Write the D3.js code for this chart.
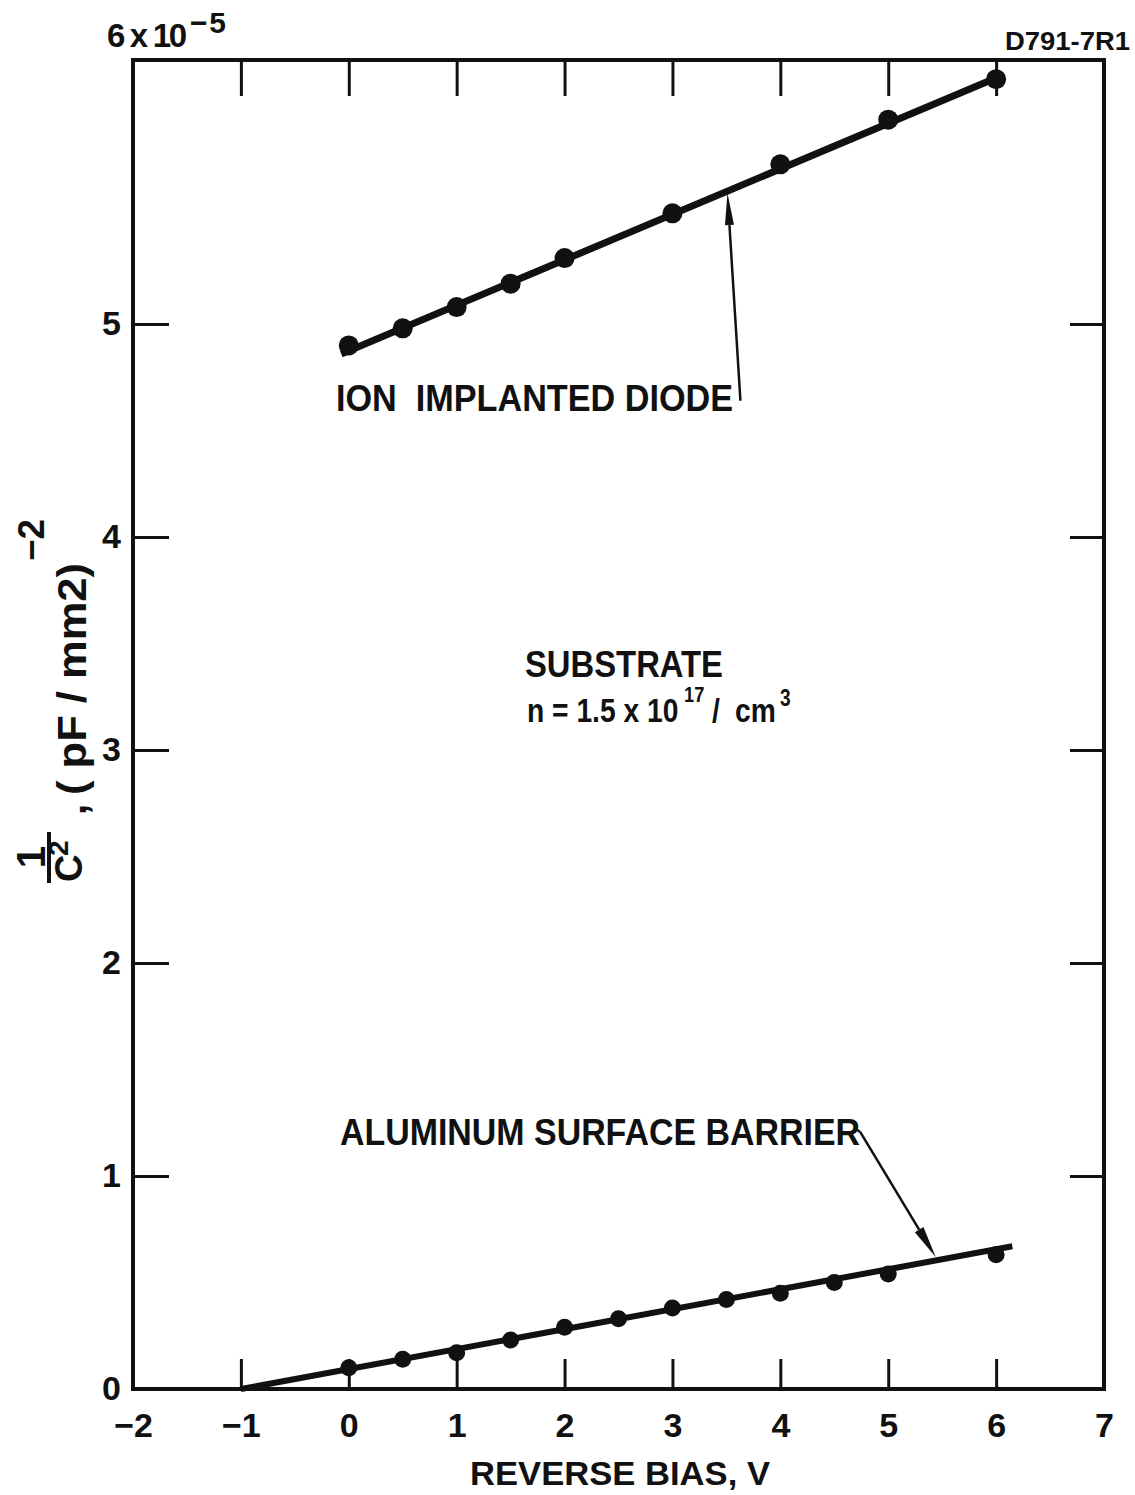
<!DOCTYPE html>
<html><head><meta charset="utf-8">
<script src="https://cdn.jsdelivr.net/npm/d3@7"></script>
<style>
html,body{margin:0;padding:0;background:#fff;}
svg text{font-family:"Liberation Sans",Arial,sans-serif;font-weight:bold;fill:#111;}
</style></head>
<body>
<script>
// ---- data ----
const xTickValues = [-2,-1,0,1,2,3,4,5,6,7];
const xTickMarks = [-1,0,1,2,3,4,5,6];
const yTickValues = [0,1,2,3,4,5];
const yTickMarks = [1,2,3,4,5];

const ionX = [0,0.5,1,1.5,2,3,4,5,6];
const ionY = [4.90,4.98,5.08,5.19,5.31,5.52,5.75,5.96,6.15];
const ionFitX = [-0.07, 6.02];
const ionFitY = [4.86, 6.16];

const alX = [0,0.5,1,1.5,2,2.5,3,3.5,4,4.5,5,6];
const alY = [0.10,0.14,0.17,0.23,0.29,0.33,0.38,0.42,0.45,0.50,0.54,0.63];
const alFitX = [-1.0, 6.15];
const alFitY = [0.0, 0.67];

// annotation arrows in data units: [tailX, tailY, tipX, tipY]
const ionArrow = [3.63, 4.64, 3.51, 5.615];
const alArrow = [4.74, 1.207, 5.44, 0.62];

const W = 1135, H = 1495;
const svg = d3.select("body").append("svg").attr("width", W).attr("height", H);

const x = d3.scaleLinear().domain([-2,7]).range([133,1104]);
const y = d3.scaleLinear().domain([0,6.24]).range([1389,60]);
const ink = "#111";

// frame
svg.append("rect").attr("x", x(-2)).attr("y", y(6.24))
  .attr("width", x(7)-x(-2)).attr("height", y(0)-y(6.24))
  .attr("fill","none").attr("stroke",ink).attr("stroke-width",4);

function styleAxis(g){ g.select(".domain").remove(); g.selectAll("line").attr("stroke",ink).attr("stroke-width",3); }

// tick marks (inward)
svg.append("g").attr("transform",`translate(0,${y(0)})`)
  .call(d3.axisBottom(x).tickValues(xTickMarks).tickSize(-30).tickFormat("")).call(styleAxis);
svg.append("g").attr("transform",`translate(0,${y(6.24)})`)
  .call(d3.axisTop(x).tickValues(xTickMarks).tickSize(-36).tickFormat("")).call(styleAxis);
svg.append("g").attr("transform",`translate(${x(-2)},0)`)
  .call(d3.axisLeft(y).tickValues(yTickMarks).tickSize(-36).tickFormat("")).call(styleAxis);
svg.append("g").attr("transform",`translate(${x(7)},0)`)
  .call(d3.axisRight(y).tickValues(yTickMarks).tickSize(-34).tickFormat("")).call(styleAxis);

// tick labels
const gxl = svg.append("g").attr("transform",`translate(0,${y(0)})`)
  .call(d3.axisBottom(x).tickValues(xTickValues).tickSize(0).tickPadding(24).tickFormat(d3.format("d")));
gxl.select(".domain").remove();
gxl.selectAll("text").attr("font-size",34).attr("fill",ink);
const gyl = svg.append("g").attr("transform",`translate(${x(-2)},0)`)
  .call(d3.axisLeft(y).tickValues(yTickValues).tickSize(0).tickPadding(12).tickFormat(d3.format("d")));
gyl.select(".domain").remove();
gyl.selectAll("text").attr("font-size",34).attr("fill",ink);

// top-left multiplier label
svg.append("text").attr("x",107).attr("y",47).attr("font-size",33).attr("textLength",80).text("6 x 10");
svg.append("text").attr("x",190).attr("y",33).attr("font-size",30).attr("textLength",36).text("\u22125");
svg.append("text").attr("x",1005).attr("y",50).attr("font-size",25).attr("textLength",125).attr("lengthAdjust","spacingAndGlyphs").text("D791-7R1");

// fit lines
const line = d3.line().x(d=>x(d[0])).y(d=>y(d[1]));
svg.append("path").attr("d", line(d3.zip(ionFitX, ionFitY)))
  .attr("stroke",ink).attr("stroke-width",7).attr("fill","none");
svg.append("path").attr("d", line(d3.zip(alFitX, alFitY)))
  .attr("stroke",ink).attr("stroke-width",6).attr("fill","none");

// points
svg.append("g").selectAll("circle").data(d3.zip(ionX, ionY)).join("circle")
  .attr("cx",d=>x(d[0])).attr("cy",d=>y(d[1])).attr("r",10).attr("fill",ink);
svg.append("g").selectAll("circle").data(d3.zip(alX, alY)).join("circle")
  .attr("cx",d=>x(d[0])).attr("cy",d=>y(d[1])).attr("r",8.5).attr("fill",ink);

// arrows
function arrow(a, headLen, headW){
  const x1=x(a[0]), y1=y(a[1]), x2=x(a[2]), y2=y(a[3]);
  const dx=x2-x1, dy=y2-y1, L=Math.hypot(dx,dy), ux=dx/L, uy=dy/L;
  const bx=x2-ux*headLen, by=y2-uy*headLen;
  svg.append("line").attr("x1",x1).attr("y1",y1).attr("x2",bx).attr("y2",by)
    .attr("stroke",ink).attr("stroke-width",2.5);
  svg.append("polygon").attr("points",
    `${x2},${y2} ${bx-uy*headW/2},${by+ux*headW/2} ${bx+uy*headW/2},${by-ux*headW/2}`).attr("fill",ink);
}
arrow(ionArrow, 32, 9);
arrow(alArrow, 32, 10);
// small kink at start of lower arrow
svg.append("line").attr("x1",x(alArrow[0])-6).attr("y1",y(alArrow[1])-4)
  .attr("x2",x(alArrow[0])).attr("y2",y(alArrow[1])).attr("stroke",ink).attr("stroke-width",2.5);

// annotations
svg.append("text").attr("x",336).attr("y",411).attr("font-size",36).attr("textLength",397)
  .attr("lengthAdjust","spacingAndGlyphs").attr("xml:space","preserve").text("ION  IMPLANTED DIODE");
svg.append("text").attr("x",525).attr("y",677).attr("font-size",36).attr("textLength",198)
  .attr("lengthAdjust","spacingAndGlyphs").text("SUBSTRATE");

// substrate doping line: one text element, horizontally condensed
const sc = 0.83;
const nt = svg.append("text").attr("transform",`translate(527,722) scale(${sc},1)`).attr("font-size",34);
nt.append("tspan").attr("x",0).attr("y",0).text("n = 1.5 x 10");
nt.append("tspan").attr("x",(684-527)/sc).attr("y",-20).attr("font-size",22).text("17");
nt.append("tspan").attr("x",(712-527)/sc).attr("y",0).text("/");
nt.append("tspan").attr("x",(735-527)/sc).attr("y",0).text("cm");
nt.append("tspan").attr("x",(780-527)/sc).attr("y",-16).attr("font-size",23).text("3");

svg.append("text").attr("x",340).attr("y",1145).attr("font-size",36).attr("textLength",520)
  .attr("lengthAdjust","spacingAndGlyphs").text("ALUMINUM SURFACE BARRIER");
svg.append("text").attr("x",470).attr("y",1485).attr("font-size",34).attr("textLength",300)
  .attr("lengthAdjust","spacingAndGlyphs").text("REVERSE BIAS, V");

// y axis label (rotated)
const yl = svg.append("g").attr("transform","rotate(-90)");
yl.append("text").attr("x",-857).attr("y",45).attr("font-size",40).attr("text-anchor","middle").text("1");
yl.append("line").attr("x1",-883).attr("x2",-832).attr("y1",49).attr("y2",49).attr("stroke",ink).attr("stroke-width",4);
yl.append("text").attr("x",-882).attr("y",82).attr("font-size",38).text("C");
yl.append("text").attr("x",-856).attr("y",68).attr("font-size",28).text("2");
yl.append("text").attr("x",-815).attr("y",86).attr("font-size",40).text(",");
yl.append("text").attr("x",-795).attr("y",86).attr("font-size",40).attr("textLength",232)
  .attr("lengthAdjust","spacingAndGlyphs").text("( pF / mm2)");
yl.append("text").attr("x",-561).attr("y",44).attr("font-size",36).attr("textLength",42)
  .attr("lengthAdjust","spacingAndGlyphs").text("\u22122");
</script>
</body></html>
